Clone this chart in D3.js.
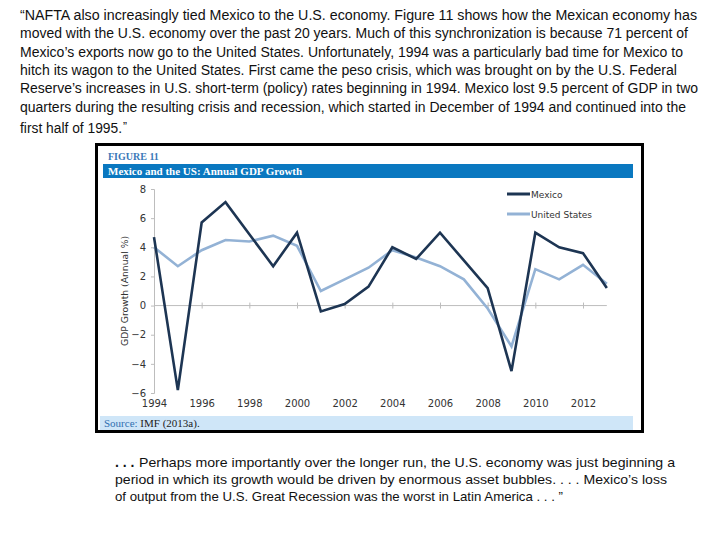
<!DOCTYPE html>
<html>
<head>
<meta charset="utf-8">
<script src="https://cdn.jsdelivr.net/npm/d3@7"></script>
<style>
	body { margin: 0; background: #fff; }
	svg { display: block; }
</style>
</head>
<body>
<svg id="page" width="720" height="540"></svg>
<script>

// chart values
const YEARS = [1994, 1995, 1996, 1997, 1998, 1999, 2000, 2001, 2002, 2003, 2004,
	2005, 2006, 2007, 2008, 2009, 2010, 2011, 2012, 2013];
const MEXICO = [4.7, -5.8, 5.7, 7.1, 4.9, 2.7, 5.0, -0.4, 0.1, 1.3, 4.0,
	3.2, 5.0, 3.1, 1.2, -4.5, 5.0, 4.0, 3.6, 1.2];
const UNITED_STATES = [4.0, 2.7, 3.8, 4.5, 4.4, 4.8, 4.1, 1.0, 1.8, 2.6, 3.8,
	3.3, 2.7, 1.8, -0.2, -2.8, 2.5, 1.8, 2.8, 1.5];
const SERIES_NAMES = ["Mexico", "United States"];
const Y_TICKS = [-6, -4, -2, 0, 2, 4, 6, 8];
const X_TICKS = [1994, 1996, 1998, 2000, 2002, 2004, 2006, 2008, 2010, 2012];

const TOP_TEXT = [
	"\u201CNAFTA also increasingly tied Mexico to the U.S. economy. Figure 11 shows how the Mexican economy has",
	"moved with the U.S. economy over the past 20 years. Much of this synchronization is because 71 percent of",
	"Mexico\u2019s exports now go to the United States. Unfortunately, 1994 was a particularly bad time for Mexico to",
	"hitch its wagon to the United States. First came the peso crisis, which was brought on by the U.S. Federal",
	"Reserve\u2019s increases in U.S. short-term (policy) rates beginning in 1994. Mexico lost 9.5 percent of GDP in two",
	"quarters during the resulting crisis and recession, which started in December of 1994 and continued into the",
	"first half of 1995."
];
const BOTTOM_TEXT = [
	"Perhaps more importantly over the longer run, the U.S. economy was just beginning a",
	"period in which its growth would be driven by enormous asset bubbles. . . .  Mexico\u2019s loss",
	"of output from the U.S. Great Recession was the worst in Latin America . . . \u201D"
];

const MEXICO_COLOR = "#1d3553";
const US_COLOR = "#93b2d5";
const AXIS_COLOR = "#bdbdbd";
const LABEL_FONT = "'DejaVu Sans', Verdana, sans-serif";
const SERIF = "'Liberation Serif', 'DejaVu Serif', serif";
const BODY_FONT = "'Liberation Sans', Arial, sans-serif";

const svg = d3.select("#page");

svg.append("rect").attr("width", 720).attr("height", 540).attr("fill", "#fff");

/*
Quoted paragraph above the figure. Widths are fitted to the scan.
*/
const topWidths = [677, 668, 663, 657, 678, 666, 102];
const topBase = 20;
const topStep = 18.3;
TOP_TEXT.forEach(function(line, i){
	let y = topBase + topStep * i + (i == TOP_TEXT.length - 1 ? 3 : 0);
	svg.append("text")
		.attr("x", 20)
		.attr("y", y)
		.attr("font-family", BODY_FONT)
		.attr("font-size", 14)
		.attr("fill", "#111")
		.attr("textLength", topWidths[i])
		.attr("lengthAdjust", "spacingAndGlyphs")
		.text(line);
});
// closing quote sits high after "1995."
svg.append("text")
	.attr("x", 123)
	.attr("y", topBase + topStep * 6 + 1)
	.attr("font-family", BODY_FONT)
	.attr("font-size", 12)
	.attr("fill", "#111")
	.text("\u201D");

/*
Figure frame with its title bars.
*/
const frame = svg.append("g");
frame.append("rect")
	.attr("x", 96.5).attr("y", 144.5)
	.attr("width", 546).attr("height", 287)
	.attr("fill", "#fff")
	.attr("stroke", "#000")
	.attr("stroke-width", 3);

frame.append("text")
	.attr("x", 108).attr("y", 160)
	.attr("font-family", SERIF)
	.attr("font-weight", "bold")
	.attr("font-size", 10)
	.attr("fill", "#3a78b8")
	.text("FIGURE 11");

frame.append("rect")
	.attr("x", 103).attr("y", 164)
	.attr("width", 530).attr("height", 14)
	.attr("fill", "#0a78c0");

frame.append("text")
	.attr("x", 108).attr("y", 174.5)
	.attr("font-family", SERIF)
	.attr("font-weight", "bold")
	.attr("font-size", 11)
	.attr("fill", "#fff")
	.text("Mexico and the US: Annual GDP Growth");

frame.append("rect")
	.attr("x", 100).attr("y", 416)
	.attr("width", 533).attr("height", 14)
	.attr("fill", "#cfe6f8");

let source = frame.append("text")
	.attr("x", 104).attr("y", 426.5)
	.attr("font-family", SERIF)
	.attr("font-size", 11);
source.append("tspan").attr("fill", "#2f6fb0").text("Source: ");
source.append("tspan").attr("fill", "#222").text("IMF (2013a).");

/*
Plot area.
*/
const x = d3.scaleLinear().domain([1994, 2012]).range([154, 583]);
const y = d3.scaleLinear().domain([-6, 8]).range([393, 189]);

const plot = svg.append("g");

// y axis
const yAxis = d3.axisLeft(y)
	.tickValues(Y_TICKS)
	.tickFormat(d3.format("d"))
	.tickSize(3)
	.tickPadding(5);
let yg = plot.append("g")
	.attr("transform", "translate(" + x(1994) + ",0)")
	.call(yAxis);
yg.select(".domain").attr("stroke", AXIS_COLOR);
yg.selectAll(".tick line").attr("stroke", AXIS_COLOR);
yg.selectAll("text")
	.attr("font-family", LABEL_FONT)
	.attr("font-size", 10)
	.attr("fill", "#333");

// zero line with ticks crossing it
plot.append("line")
	.attr("x1", x(1994)).attr("x2", x(2013))
	.attr("y1", y(0)).attr("y2", y(0))
	.attr("stroke", AXIS_COLOR);
let zg = plot.append("g")
	.attr("transform", "translate(0," + (y(0) - 3) + ")")
	.call(d3.axisBottom(x).tickValues(X_TICKS).tickFormat("").tickSize(6));
zg.select(".domain").remove();
zg.selectAll(".tick line").attr("stroke", AXIS_COLOR);

// year labels under the plot
let xg = plot.append("g")
	.attr("transform", "translate(0," + y(-6) + ")")
	.call(d3.axisBottom(x).tickValues(X_TICKS).tickFormat(d3.format("d")).tickSize(0).tickPadding(7));
xg.select(".domain").remove();
xg.selectAll("text")
	.attr("font-family", LABEL_FONT)
	.attr("font-size", 10)
	.attr("fill", "#333");

plot.append("text")
	.attr("transform", "translate(128," + y(1) + ") rotate(-90)")
	.attr("text-anchor", "middle")
	.attr("font-family", LABEL_FONT)
	.attr("font-size", 9)
	.attr("fill", "#333")
	.attr("textLength", 110)
	.attr("lengthAdjust", "spacingAndGlyphs")
	.text("GDP Growth (Annual %)");

// series lines, US under Mexico
const line = d3.line()
	.x((d, i) => x(YEARS[i]))
	.y(d => y(d));

plot.append("path")
	.datum(UNITED_STATES)
	.attr("fill", "none")
	.attr("stroke", US_COLOR)
	.attr("stroke-width", 2.6)
	.attr("stroke-linejoin", "miter")
	.attr("d", line);

plot.append("path")
	.datum(MEXICO)
	.attr("fill", "none")
	.attr("stroke", MEXICO_COLOR)
	.attr("stroke-width", 2.6)
	.attr("stroke-linejoin", "miter")
	.attr("d", line);

// legend
const legend = plot.append("g").attr("transform", "translate(507,194)");
[MEXICO_COLOR, US_COLOR].forEach(function(c, i){
	legend.append("line")
		.attr("x1", 0).attr("x2", 23)
		.attr("y1", i * 20).attr("y2", i * 20)
		.attr("stroke", c)
		.attr("stroke-width", 3);
	legend.append("text")
		.attr("x", 24).attr("y", i * 20 + 3.5)
		.attr("font-family", LABEL_FONT)
		.attr("font-size", 9)
		.attr("fill", "#333")
		.text(SERIES_NAMES[i]);
});

/*
Quoted paragraph below the figure.
*/
const bottomWidths = [536, 552, 448];
const bottomBase = 467;
svg.append("text")
	.attr("x", 115).attr("y", bottomBase)
	.attr("font-family", BODY_FONT)
	.attr("font-weight", "bold")
	.attr("font-size", 14)
	.attr("fill", "#111")
	.text(". . .");
BOTTOM_TEXT.forEach(function(line, i){
	svg.append("text")
		.attr("x", i == 0 ? 139 : 115)
		.attr("y", bottomBase + 17 * i)
		.attr("font-family", BODY_FONT)
		.attr("font-size", 13)
		.attr("fill", "#111")
		.attr("textLength", bottomWidths[i])
		.attr("lengthAdjust", "spacingAndGlyphs")
		.text(line);
});

</script>
</body>
</html>
